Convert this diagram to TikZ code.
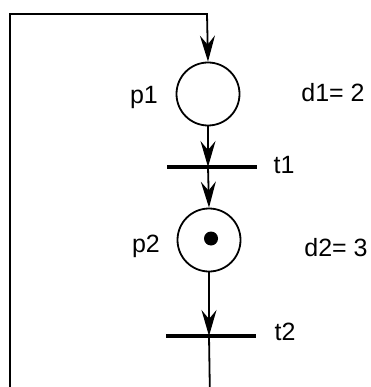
\documentclass[tikz,border=0pt]{standalone}
\usepackage{fontspec}
\setmainfont{Liberation Sans}
\usetikzlibrary{arrows.meta}
\begin{document}
\begin{tikzpicture}[x=1pt,y=-1pt,line width=1.8pt,
  place/.style={circle,draw,minimum size=63pt,inner sep=0pt},
  bar/.style={fill,minimum width=90pt,minimum height=3.2pt,inner sep=0pt},
  lbl/.style={font=\fontsize{25}{29}\selectfont,anchor=base,inner sep=0pt},
  token/.style={circle,fill,minimum size=14pt,inner sep=0pt},
  arr/.style={-{Stealth[length=26pt,width=15pt,inset=9pt]}}]
\useasboundingbox (0,0) rectangle (370,387);
\clip (0,0) rectangle (370,387);
\node[place] (p1) at (208,94) {};
\node[place] (p2) at (209,240) {};
\node[token] (tok) at (211,238.5) {};
\node[bar] (t1) at (212,167) {};
\node[bar] (t2) at (210.5,336) {};
\node[lbl] (lp1) at (144,104) {p1};
\node[lbl] (lp2) at (146,252) {p2};
\node[lbl] (ld1) at (333,102) {d1= 2};
\node[lbl] (ld2) at (336,256) {d2= 3};
\node[lbl] (lt1) at (284,173) {t1};
\node[lbl] (lt2) at (285,340) {t2};
\coordinate (c1) at (210,400);
\coordinate (c2) at (10,400);
\coordinate (c3) at (10,14);
\coordinate (c4) at (207,14);
\draw[arr] (p1.south) -- (p1.south |- t1.center);
\draw[arr] (p1.south |- t1.center) -- (p2.north);
\draw[arr] (p2.south) -- (p2.south |- t2.center);
\draw[arr] (p2.south |- t2.center) -- (c1) -- (c2) -- (c3) -- (c4) -- (p1.north);
\end{tikzpicture}
\end{document}
